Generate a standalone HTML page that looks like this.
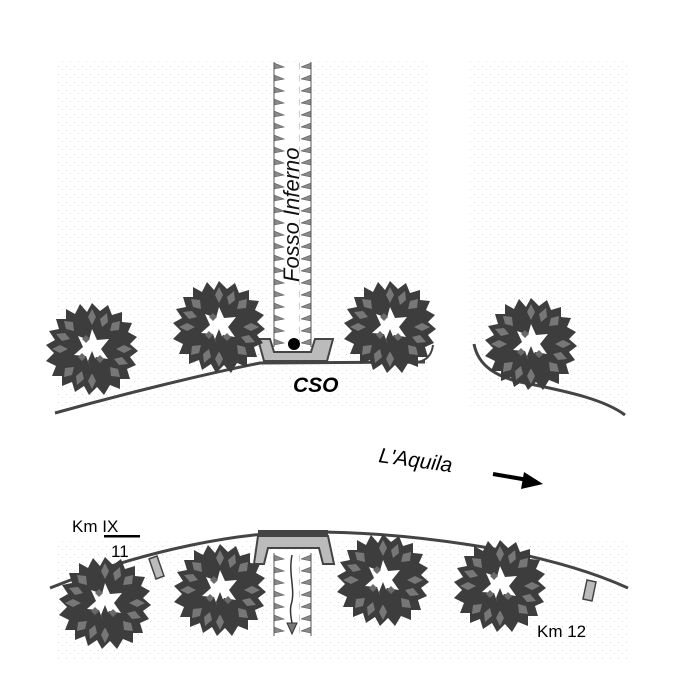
<!DOCTYPE html>
<html><head><meta charset="utf-8"><style>
html,body{margin:0;padding:0;background:#fff;}
svg{display:block;}
text{font-family:"Liberation Sans",sans-serif;}
</style></head><body>
<svg width="700" height="700" viewBox="0 0 700 700" xmlns="http://www.w3.org/2000/svg">
<defs>
<pattern id="dots" width="8" height="8" patternUnits="userSpaceOnUse">
<rect x="2" y="2" width="1" height="1" fill="#d8d8d8"/>
<rect x="6" y="5" width="1" height="1" fill="#e2e2e2"/>
</pattern>
<pattern id="tl" width="12" height="12" patternUnits="userSpaceOnUse" x="274">
<polygon points="0,3 10,7 0,9" fill="#888" stroke="#555" stroke-width="0.6"/>
</pattern>
<pattern id="tr" width="12" height="12" patternUnits="userSpaceOnUse" x="301">
<polygon points="10,3 0,7 10,9" fill="#888" stroke="#555" stroke-width="0.6"/>
</pattern>
<g id="tree">
<polygon fill="#3d3d3d" points="0,-46 8,-38 16,-44 20,-34 30,-37 30,-27 40,-26 36,-17 45,-12 38,-5 46,2 38,8 44,16 35,20 38,30 28,30 28,40 18,36 12,46 5,38 -3,46 -8,37 -17,43 -20,33 -30,37 -30,27 -40,27 -36,17 -46,12 -38,4 -46,-4 -37,-9 -43,-18 -33,-20 -36,-30 -26,-30 -26,-40 -17,-35 -12,-45 -5,-37"/>
<g fill="#777">
<polygon points="0,-40 4,-32 0,-24 -4,-32"/>
<polygon points="0,40 4,32 0,24 -4,32"/>
<polygon points="40,0 32,4 24,0 32,-4"/>
<polygon points="-40,0 -32,4 -24,0 -32,-4"/>
<polygon points="28,-28 27,-19 18,-18 20,-26"/>
<polygon points="-28,28 -27,19 -18,18 -20,26"/>
<polygon points="28,28 19,27 18,18 26,20"/>
<polygon points="-28,-28 -19,-27 -18,-18 -26,-20"/>
<polygon points="15,-36 16,-27 10,-22 8,-30"/>
<polygon points="-15,36 -16,27 -10,22 -8,30"/>
<polygon points="36,15 27,16 22,10 30,8"/>
<polygon points="-36,-15 -27,-16 -22,-10 -30,-8"/>
</g>
<polygon fill="#fff" points="0,-20 5,-9 17,-10 9,0 16,10 4,8 -2,18 -6,7 -18,6 -9,-2 -14,-13 -3,-9"/>
<g fill="#6a6a6a">
<polygon points="-6,-14 -2,-10 -6,-6 -10,-10"/>
<polygon points="8,6 12,10 8,14 4,10"/>
<polygon points="-10,4 -6,8 -10,12 -14,8"/>
</g>
<polygon fill="#3d3d3d" points="0,2 4,12 0,26 -4,12"/>
</g>
</defs>

<rect x="55" y="60" width="375" height="350" fill="url(#dots)"/>
<rect x="470" y="60" width="160" height="350" fill="url(#dots)"/>
<rect x="55" y="540" width="575" height="120" fill="url(#dots)"/>

<rect x="274" y="62" width="37" height="285" fill="#fff"/>
<rect x="274" y="62" width="12" height="285" fill="url(#tl)"/>
<rect x="299" y="62" width="12" height="285" fill="url(#tr)"/>
<line x1="274" y1="62" x2="274" y2="347" stroke="#555" stroke-width="1"/>
<line x1="311" y1="62" x2="311" y2="347" stroke="#555" stroke-width="1"/>
<text transform="translate(299,282) rotate(-90)" font-size="22" font-style="italic" fill="#111">Fosso Inferno</text>

<path d="M55,413 C120,395 200,375 260,363 L425,362" fill="none" stroke="#444" stroke-width="3"/>
<path d="M380,362 C410,362 430,368 433,345" fill="none" stroke="#444" stroke-width="2"/>
<path d="M474,344 C478,365 495,378 530,384 C570,392 605,400 625,415" fill="none" stroke="#444" stroke-width="3"/>

<polygon points="258,339 270,339 274,352 311,352 315,339 333,339 327,361 264,361" fill="#bbb" stroke="#444" stroke-width="2"/>
<circle cx="294" cy="344" r="6" fill="#000"/>
<text x="293" y="392" font-size="21" font-weight="bold" font-style="italic">CSO</text>

<use href="#tree" transform="translate(92,349)"/>
<use href="#tree" transform="translate(219,327)"/>
<use href="#tree" transform="translate(390,327)"/>
<use href="#tree" transform="translate(531,344)"/>

<text transform="translate(378,462) rotate(8)" font-size="21" font-style="italic">L'Aquila</text>
<line x1="493" y1="474" x2="528" y2="480" stroke="#000" stroke-width="4"/>
<polygon points="543,484 524,472 521,489" fill="#000"/>

<path d="M50,588 C150,548 240,533 300,532 C400,531 540,548 628,588" fill="none" stroke="#444" stroke-width="3"/>

<rect x="274" y="553" width="37" height="83" fill="#fff"/>
<rect x="274" y="553" width="12" height="83" fill="url(#tl)"/>
<rect x="299" y="553" width="12" height="83" fill="url(#tr)"/>
<line x1="274" y1="553" x2="274" y2="636" stroke="#555"/>
<line x1="311" y1="553" x2="311" y2="636" stroke="#555"/>
<path d="M292,555 C288,575 296,590 291,605 C289,615 293,622 292,628" fill="none" stroke="#333" stroke-width="1.5"/>
<polygon points="287,623 297,623 292,634" fill="#777" stroke="#333"/>
<polygon points="258,536 328,536 334,564 323,564 319,548 268,548 264,564 254,564" fill="#bbb" stroke="#444" stroke-width="2"/>
<rect x="258" y="530" width="70" height="6" fill="#444"/>

<polygon points="149,559 157,556 164,576 156,579" fill="#bbb" stroke="#444" stroke-width="1.5"/>
<polygon points="587,580 596,582 592,601 583,599" fill="#bbb" stroke="#444" stroke-width="1.5"/>

<use href="#tree" transform="translate(105,603)"/>
<use href="#tree" transform="translate(220,590)"/>
<use href="#tree" transform="translate(383,580)"/>
<use href="#tree" transform="translate(500,586)"/>

<text x="72" y="532" font-size="17">Km IX</text>
<rect x="104" y="535" width="36" height="2.5" fill="#000"/>
<text x="111" y="557" font-size="17">11</text>
<text x="537" y="637" font-size="17">Km 12</text>
</svg>
</body></html>
